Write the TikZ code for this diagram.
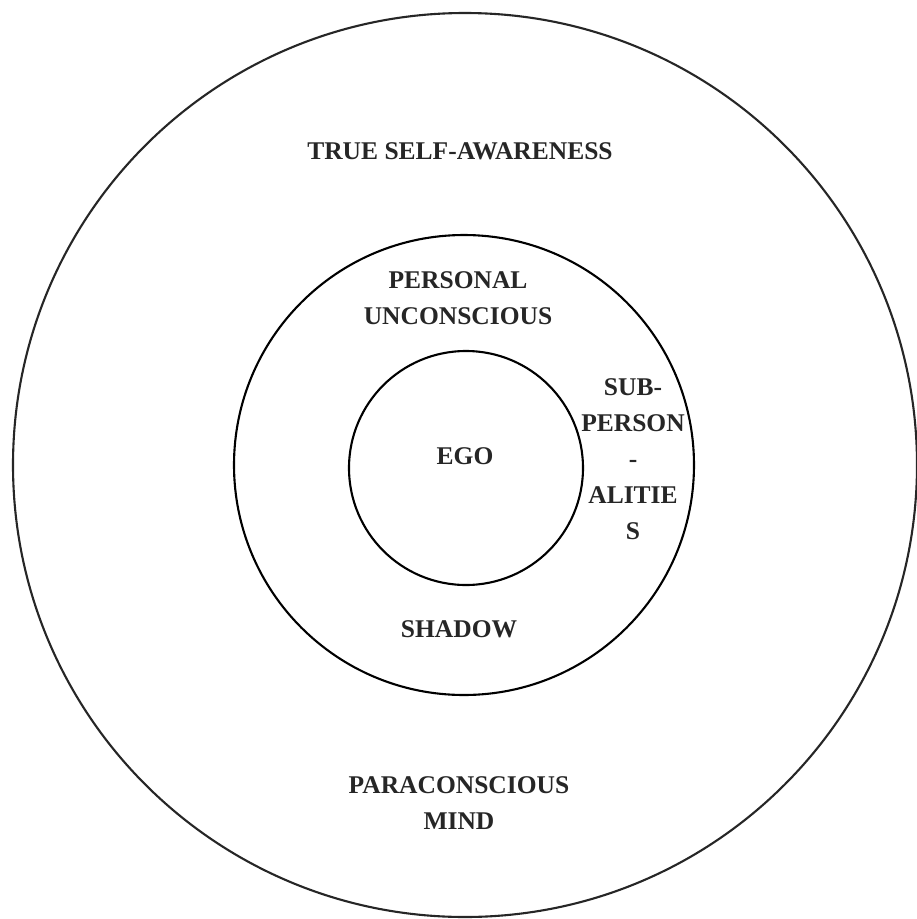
\documentclass[tikz,border=0pt]{standalone}
\usepackage{fontspec}
\setmainfont{Liberation Serif}
\begin{document}
\begin{tikzpicture}[x=1pt,y=-1pt,
  ring/.style={draw=black,line width=2.1pt},
  lbl/.style={font=\fontsize{25.5}{36}\selectfont\bfseries,align=center,inner sep=0pt,text=black!85}]
\useasboundingbox (0,0) rectangle (917,919);
\fill[white] (0,0) rectangle (917,919);
\draw[ring,black!85] (465,465) circle[radius=452];
\draw[ring] (464,465) circle[radius=230];
\draw[ring] (466,468) circle[radius=117];
\node[lbl] (tsa) at (460,151) {TRUE SELF-AWARENESS};
\node[lbl] (pu) at (458,298) {PERSONAL\\UNCONSCIOUS};
\node[lbl] (ego) at (465,456) {EGO};
\node[lbl] (sub) at (633,459) {SUB-\\PERSON\\-\\ALITIE\\S};
\node[lbl] (sh) at (459,629) {SHADOW};
\node[lbl] (pm) at (459,803) {PARACONSCIOUS\\MIND};
\end{tikzpicture}
\end{document}
